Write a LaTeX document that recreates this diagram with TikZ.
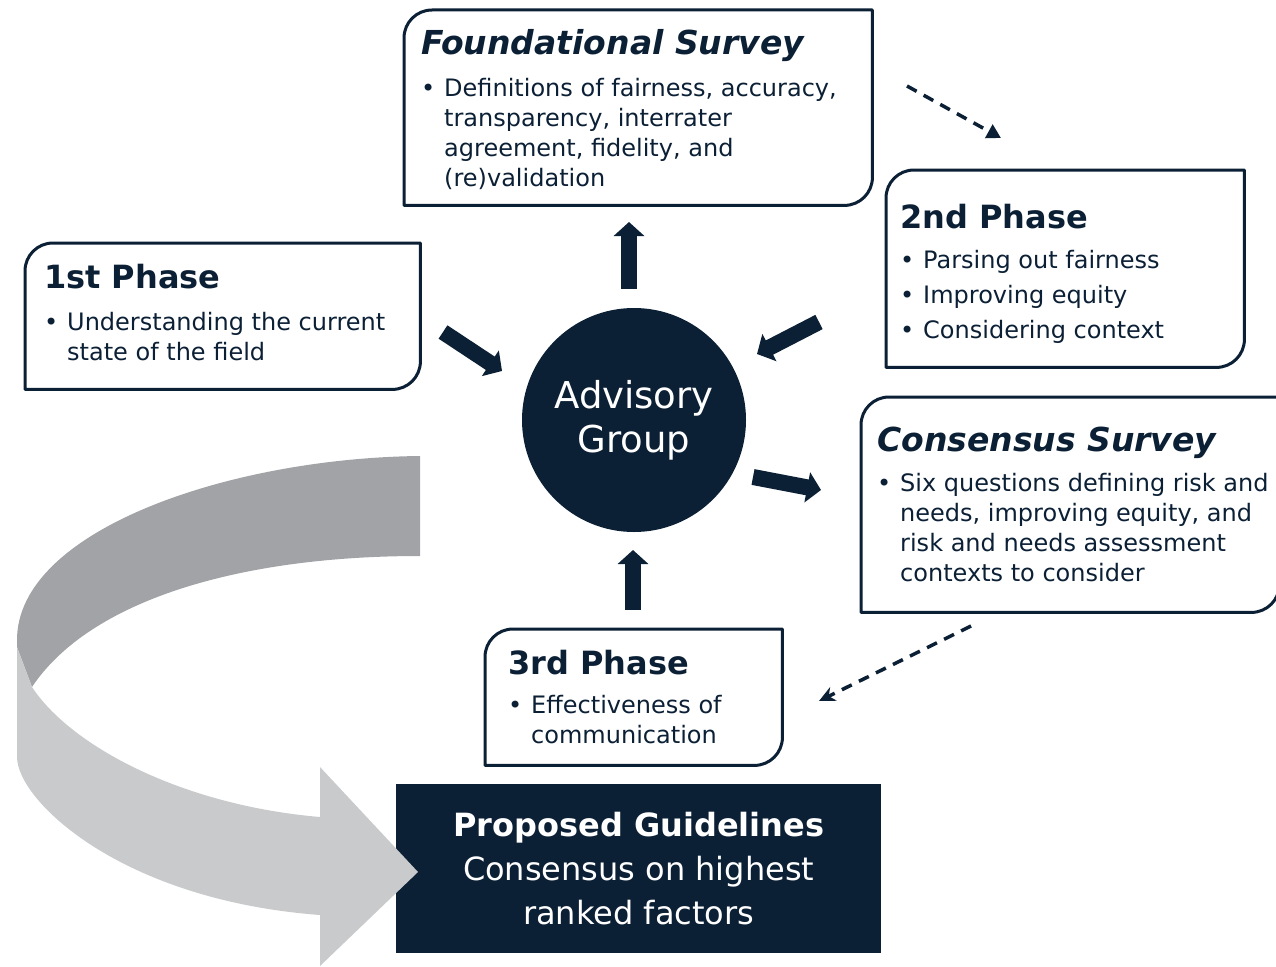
\documentclass[tikz,border=0pt]{standalone}
\usepackage{fontspec}
\setmainfont{DejaVu Sans}
\usetikzlibrary{arrows.meta}
\definecolor{navy}{HTML}{0B1F35}
\definecolor{ribdark}{HTML}{A2A3A6}
\definecolor{riblight}{HTML}{C9CACC}
\newcommand\bul{\makebox[23pt][l]{•}}
\newcommand\ind{\hspace*{23pt}}
\newcommand\ttlfont{\fontsize{32}{40}\selectfont\bfseries}
\newcommand\ttlitfont{\fontsize{33}{40}\selectfont\bfseries\itshape}
\newcommand\boxoutline[1]{%
  \draw[boxline] (#1.south west) -- ([yshift=-28pt]#1.north west)
    .. controls ([yshift=-12.5pt]#1.north west) and ([xshift=12.5pt]#1.north west) .. ([xshift=28pt]#1.north west)
    -- (#1.north east) -- ([yshift=28pt]#1.south east)
    .. controls ([yshift=12.5pt]#1.south east) and ([xshift=-12.5pt]#1.south east) .. ([xshift=-28pt]#1.south east) -- cycle;}
\tikzset{
  boxshape/.style={anchor=north west, inner sep=0pt, draw=none, rectangle},
  boxline/.style={draw=navy, line width=3pt, line join=round},
  boxtext/.style={anchor=north west, inner sep=0pt, align=left, text=navy,
    font=\fontsize{24}{30}\selectfont},
  bigarrow/.style={draw=navy, line width=16pt, -{Triangle[length=14pt,width=30pt]}},
  dasharrow/.style={draw=navy, line width=3.5pt, dash pattern=on 11pt off 8pt},
}
\begin{document}
\begin{tikzpicture}[x=1pt,y=-1pt]
\useasboundingbox (0,0) rectangle (1276,966);

% boxes
\node[boxshape, minimum width=468pt, minimum height=195pt] (fs) at (404,10) {};
\node[boxshape, minimum width=395pt, minimum height=146pt] (p1) at (25,243) {};
\node[boxshape, minimum width=358pt, minimum height=197pt] (p2) at (886,170) {};
\node[boxshape, minimum width=418pt, minimum height=215pt] (cs) at (861,397) {};
\node[boxshape, minimum width=297pt, minimum height=136pt] (p3) at (485,629) {};
\boxoutline{fs}
\boxoutline{p1}
\boxoutline{p2}
\boxoutline{cs}
\boxoutline{p3}

% box texts
\node[boxtext] (fst) at (421,29) {{\ttlitfont Foundational Survey}\\[12pt]
\bul Definitions of fairness, accuracy,\\
\ind transparency, interrater\\
\ind agreement, fidelity, and\\
\ind (re)validation};

\node[boxtext] (p1t) at (44,264) {{\ttlfont 1st Phase}\\[12pt]
\bul Understanding the current\\
\ind state of the field};

\node[boxtext] (p2t) at (900,204) {{\ttlfont 2nd Phase}\\[10pt]
\bul Parsing out fairness\\[5pt]
\bul Improving equity\\[5pt]
\bul Considering context};

\node[boxtext] (cst) at (877,427) {{\ttlitfont Consensus Survey}\\[10pt]
\bul Six questions defining risk and\\
\ind needs, improving equity, and\\
\ind risk and needs assessment\\
\ind contexts to consider};

\node[boxtext] (p3t) at (508,650) {{\ttlfont 3rd Phase}\\[9pt]
\bul Effectiveness of\\
\ind communication};

% advisory group
\node[circle, fill=navy, minimum size=224pt, inner sep=0pt, text=white, align=center,
  font=\fontsize{37}{44}\selectfont] (adv) at (634,420) {Advisory\\Group};

% proposed guidelines
\node[anchor=north west, rectangle, fill=navy, minimum width=485pt, minimum height=169pt,
  inner sep=0pt, text=white, align=center, font=\fontsize{32}{44}\selectfont] (pg) at (396,784)
  {{\bfseries Proposed Guidelines}\\Consensus on highest\\ranked factors};

% ribbon arrow
\fill[ribdark] (420,456) .. controls (230,458) and (17,530) .. (17,640) -- (17,647)
  -- (32,687) .. controls (90,600) and (240,556) .. (420,556) -- cycle;
\fill[riblight] (17,647) -- (32,687) .. controls (70,745) and (180,805) .. (320,817)
  -- (320,767) -- (418,872) -- (320,966) -- (320,915)
  .. controls (120,900) and (17,800) .. (17,757) -- cycle;

% thick arrows
\coordinate (a1s) at (629,289); \coordinate (a1e) at (629,222);
\coordinate (a2s) at (633,610); \coordinate (a2e) at (633,550);
\coordinate (a3s) at (443,332); \coordinate (a3e) at (502,371);
\coordinate (a4s) at (819,322); \coordinate (a4e) at (757,354);
\coordinate (a5s) at (753,477); \coordinate (a5e) at (821,490);
\draw[bigarrow] (a1s) -- (a1e);
\draw[bigarrow] (a2s) -- (a2e);
\draw[bigarrow] (a3s) -- (a3e);
\draw[bigarrow] (a4s) -- (a4e);
\draw[bigarrow] (a5s) -- (a5e);

% dashed arrows
\coordinate (d1s) at (907,86); \coordinate (d1e) at (1001,138);
\coordinate (d2s) at (971,626); \coordinate (d2e) at (819,701);
\draw[dasharrow, -{Triangle[length=14pt,width=15pt]}] (d1s) -- (d1e);
\draw[dasharrow, -{Stealth[length=16pt,width=15pt]}] (d2s) -- (d2e);
\end{tikzpicture}
\end{document}
